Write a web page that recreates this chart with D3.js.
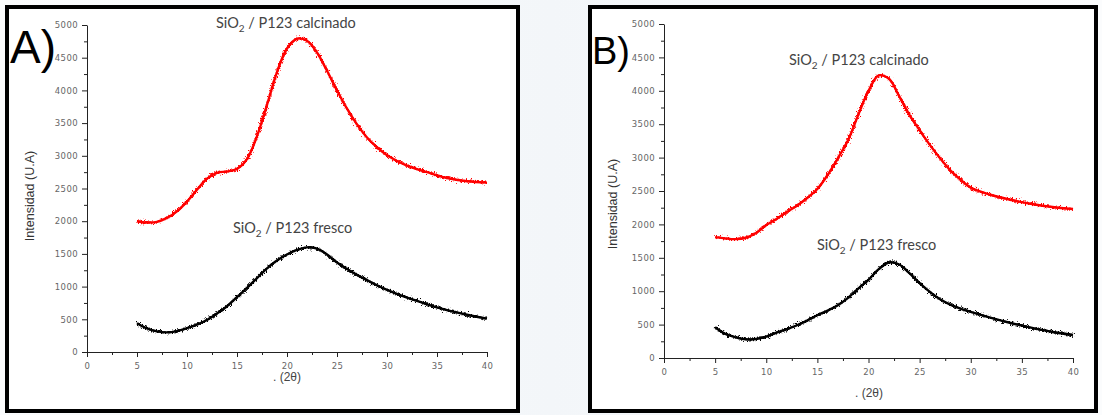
<!DOCTYPE html>
<html>
<head>
<meta charset="utf-8">
<title>SiO2 / P123 DRX</title>
<script src="https://cdn.jsdelivr.net/npm/d3@7/dist/d3.min.js"></script>
<style>
    body { margin: 0; background: #f6f8fa; }
    svg { display: block; }
    .tick text { font-family: "DejaVu Sans", sans-serif; font-size: 8.5px; fill: #666; letter-spacing: 0.4px; }
    .tick line, .domain { stroke: #222; }
    .note { font-family: "Lato", "Open Sans", sans-serif; font-size: 14.5px; fill: #444; }
    .ylab { font-family: "Liberation Sans", Arial, sans-serif; font-size: 12.5px; fill: #333; }
    .xlab { font-family: "Liberation Sans", Arial, sans-serif; font-size: 12px; fill: #444; }
    .panel { font-family: "Liberation Sans", Arial, sans-serif; fill: #000; }
</style>
</head>
<body>
<script>
    // angle 2theta
    var xA = [5,6,7,8,9,10,11,12,13,14,15,16,17,18,19,20,21,22,23,24,25,26,27,28,29,30,32,34,36,38,40];
    // panel A
    var calcA = [2000,1980,1990,2050,2150,2300,2480,2650,2740,2760,2800,2950,3300,3780,4280,4640,4790,4760,4580,4300,4000,3720,3480,3280,3130,3010,2850,2750,2660,2610,2590];
    var frescoA = [440,360,315,300,320,365,420,490,590,700,840,980,1130,1280,1400,1490,1560,1600,1580,1490,1370,1270,1180,1100,1020,950,830,730,640,570,510];
    // panel B
    var calcB = [1810,1790,1780,1800,1870,1990,2080,2185,2280,2395,2530,2740,2990,3260,3640,4000,4230,4180,3920,3640,3410,3190,2990,2810,2670,2550,2440,2365,2305,2260,2230];
    var frescoB = [460,360,310,280,285,320,380,430,490,560,640,710,790,900,1040,1170,1330,1430,1400,1270,1120,990,880,800,740,690,600,520,450,390,345];

    var xTicks = [0,5,10,15,20,25,30,35,40];
    var yTicks = [0,500,1000,1500,2000,2500,3000,3500,4000,4500,5000];

    var W = 1102, H = 415;
    var svg = d3.select("body").append("svg").attr("width", W).attr("height", H);

    var defs = svg.append("defs");
    var grad = defs.append("linearGradient").attr("id", "bg").attr("x1", 0).attr("x2", 1);
    grad.append("stop").attr("offset", "0%").attr("stop-color", "#fbfcfd");
    grad.append("stop").attr("offset", "50%").attr("stop-color", "#f3f6f9");
    grad.append("stop").attr("offset", "100%").attr("stop-color", "#fbfcfd");
    var f = defs.append("filter").attr("id", "noise")
        .attr("x", "-5%").attr("y", "-10%").attr("width", "110%").attr("height", "120%");
    f.append("feTurbulence").attr("type", "fractalNoise").attr("baseFrequency", "1.2 0.6")
        .attr("numOctaves", 2).attr("seed", 7).attr("result", "t");
    f.append("feDisplacementMap").attr("in", "SourceGraphic").attr("in2", "t")
        .attr("scale", 8).attr("xChannelSelector", "R").attr("yChannelSelector", "G");

    svg.append("rect").attr("width", W).attr("height", H).attr("fill", "url(#bg)");

    var panels = [
        { label: "A)", frame: [7, 7, 511, 404], xr: [87, 487], yr: [352, 25], calc: calcA, fresco: frescoA,
          lsize: 46, lpos: [10, 63], notes: [[216, 28, "calcinado"], [233, 233, "fresco"]],
          ylab: [30, 196], xlab: [273, 381] },
        { label: "B)", frame: [590, 7, 506, 404], xr: [664, 1073], yr: [358, 24], calc: calcB, fresco: frescoB,
          lsize: 38, lpos: [592, 64], notes: [[789, 65, "calcinado"], [817, 250, "fresco"]],
          ylab: [613, 204], xlab: [855, 397] }
    ];

    panels.forEach(function (p) {
        var g = svg.append("g");
        g.append("rect").attr("x", p.frame[0]).attr("y", p.frame[1])
            .attr("width", p.frame[2]).attr("height", p.frame[3])
            .attr("fill", "#fff").attr("stroke", "#000").attr("stroke-width", 4);

        var x = d3.scaleLinear().domain([0, 40]).range(p.xr);
        var y = d3.scaleLinear().domain([0, 5000]).range(p.yr);

        // minor ticks
        g.append("g").attr("transform", "translate(0," + p.yr[0] + ")")
            .call(d3.axisBottom(x).tickValues(d3.range(2.5, 40, 5)).tickSize(3).tickFormat(""))
            .call(function (s) { s.select(".domain").remove(); });
        g.append("g").attr("transform", "translate(" + p.xr[0] + ",0)")
            .call(d3.axisLeft(y).tickValues(d3.range(250, 5000, 500)).tickSize(3).tickFormat(""))
            .call(function (s) { s.select(".domain").remove(); });

        g.append("g").attr("transform", "translate(0," + p.yr[0] + ")")
            .call(d3.axisBottom(x).tickValues(xTicks).tickFormat(d3.format("d"))
                .tickSize(5).tickSizeOuter(0).tickPadding(6));
        g.append("g").attr("transform", "translate(" + p.xr[0] + ",0)")
            .call(d3.axisLeft(y).tickValues(yTicks).tickFormat(d3.format("d"))
                .tickSize(5).tickSizeOuter(0).tickPadding(4));

        var line = d3.line().x(function (d, i) { return x(xA[i]); }).y(function (d) { return y(d); })
            .curve(d3.curveCatmullRom.alpha(0.5));

        [[p.calc, "#f00"], [p.fresco, "#000"]].forEach(function (s) {
            g.append("path").datum(s[0]).attr("d", line).attr("fill", "none")
                .attr("stroke", s[1]).attr("stroke-width", 2.4);
            g.append("path").datum(s[0]).attr("d", line).attr("fill", "none")
                .attr("stroke", s[1]).attr("stroke-width", 2).attr("filter", "url(#noise)");
        });

        p.notes.forEach(function (n) {
            var t = g.append("text").attr("class", "note").attr("x", n[0]).attr("y", n[1]);
            t.append("tspan").text("SiO");
            t.append("tspan").attr("font-size", "10px").attr("dy", 4).text("2");
            t.append("tspan").attr("dy", -4).text(" / P123 " + n[2]);
        });

        g.append("text").attr("class", "ylab")
            .attr("transform", "translate(" + p.ylab[0] + "," + p.ylab[1] + ") rotate(-90)")
            .attr("text-anchor", "middle").attr("dy", "0.35em").text("Intensidad (U.A)");
        g.append("text").attr("class", "xlab").attr("x", p.xlab[0]).attr("y", p.xlab[1]).text(". (2θ)");

        g.append("text").attr("class", "panel").attr("x", p.lpos[0]).attr("y", p.lpos[1])
            .attr("font-size", p.lsize).text(p.label);
    });
</script>
</body>
</html>
